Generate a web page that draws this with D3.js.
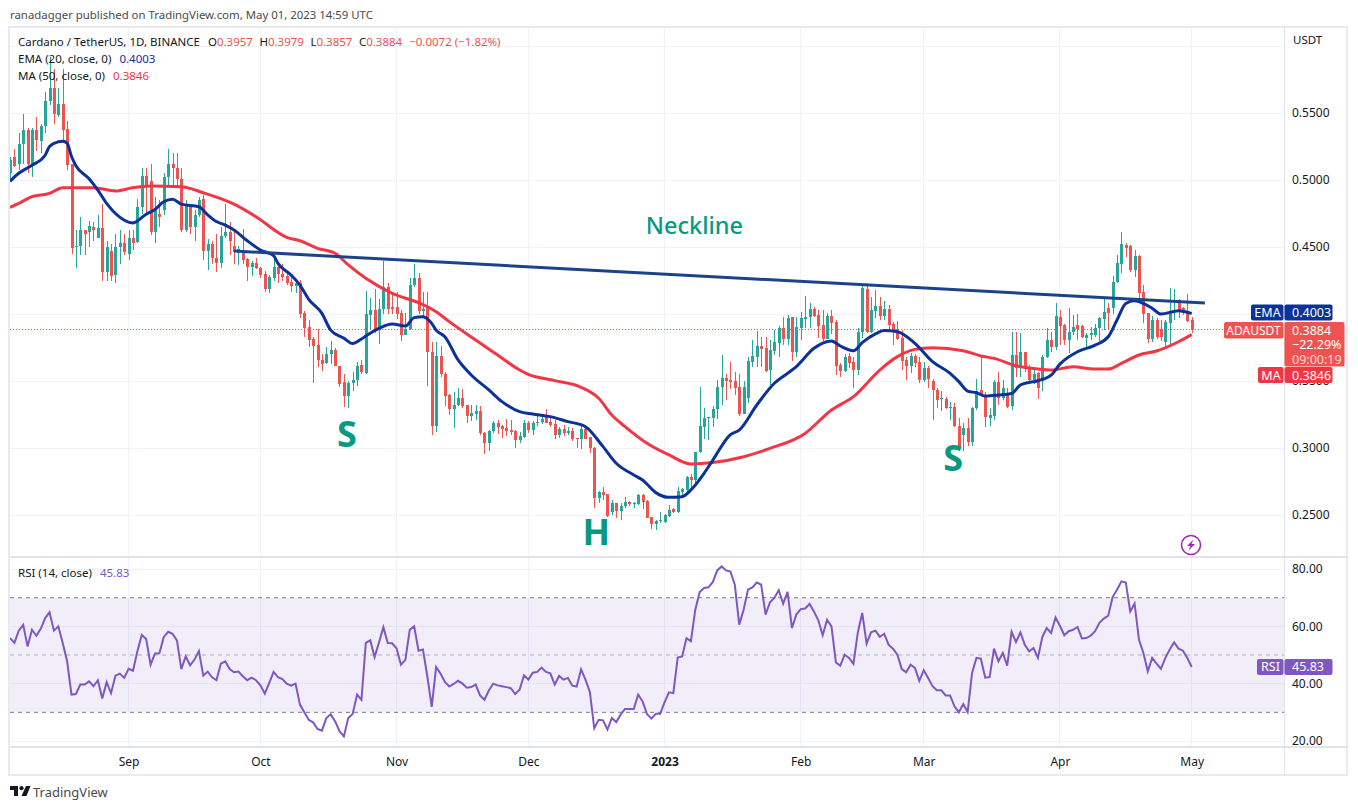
<!DOCTYPE html>
<html><head><meta charset="utf-8">
<script src="https://cdnjs.cloudflare.com/ajax/libs/d3/7.8.5/d3.min.js"></script>
<style>html,body{margin:0;padding:0;background:#fff}svg{display:block}text{font-family:"Noto Sans",sans-serif}</style>
</head><body><div id="c"></div>
<script>
const opens=[.505,.517,.512,.527,.537,.512,.537,.529,.540,.559,.569,.5485,.557,.538,.512,.450,.451,.463,.461,.465,.457,.464,.431,.447,.429,.450,.453,.445,.457,.454,.4795,.503,.499,.4615,.475,.4775,.502,.512,.509,.5005,.463,.481,.465,.474,.4855,.447,.452,.4415,.438,.458,.4615,.451,.4475,.447,.441,.435,.438,.434,.430,.4185,.427,.435,.430,.4285,.424,.421,.423,.401,.390,.3815,.377,.366,.3635,.370,.373,.3615,.349,.339,.3485,.3505,.362,.356,.3995,.403,.388,.404,.420,.405,.4055,.4005,.384,.389,.4215,.4265,.402,.4045,.372,.3165,.369,.355,
.3395,.329,.332,.337,.332,.324,.3255,.3276,.3115,.304,.3125,.3185,.3165,.3147,.3135,.313,.306,.3085,.3188,.3135,.3188,.3195,.3246,.3197,.318,.3097,.314,.3115,.313,.3072,.3065,.3142,.308,.2997,.263,.2669,.2657,.2520,.2587,.253,.2565,.2600,.2588,.2582,.2649,.2605,.2482,.2432,.2455,.2445,.2493,.2542,.2525,.2675,.2687,.2786,.2761,.2973,.3160,.3221,.3225,.3291,.3453,.3525,.3508,.3502,.3458,
.3254,.3376,.3645,.3682,.3761,.3744,.3582,.3724,.3786,.3893,.3811,.3975,.3719,.3893,.3963,.3975,.4037,.3993,.3918,.3813,.3985,.3943,.3619,.3575,.3687,.3644,.3582,.3868,.4187,.3868,.4025,.4060,.3985,.4035,.3923,.3886,.3818,.3657,.3612,.3687,.3644,.3508,.3600,.3503,.3433,.3366,.3363,.3299,.3308,.3167,.3097,.3147,.3047,.3296,
.3432,.3395,.3225,.3241,.3490,.3370,.3408,.3313,.3694,.3594,.3718,.3594,.3507,.3557,.3502,.3676,.3806,.3751,.3980,.3917,.3806,.3868,.3917,.3912,.3823,.3843,.3843,.3892,.3962,.4047,.4042,.4236,.4373,.4514,.4507,.4328,.4432,.4166,.4005,.3810,.3955,.3885,.3793,.3935,.4012,.4104,.4042,.4017,.3957];
const highs=[.517,.5235,.535,.549,.5385,.5385,.547,.542,.566,.592,.583,.569,.583,.544,.512,.463,.4725,.463,.4695,.469,.474,.482,.4545,.4525,.4595,.463,.4595,.463,.463,.4855,.509,.509,.512,.4875,.485,.505,.5235,.520,.520,.509,.485,.482,.4775,.4875,.489,.456,.4545,.460,.465,.482,.4685,.4635,.451,.4635,.4415,.4395,.442,.435,.432,.429,.4415,.437,.437,.431,.428,.426,.4255,.402,.3955,.383,.3885,.3705,.3755,.3795,.375,.3615,.3555,.350,.3565,.364,.366,.417,.412,.419,.411,.4395,.423,.4155,.4165,.403,.4005,.4265,.437,.4305,.4165,.4165,.379,.3788,.376,.3565,
.340,.342,.3445,.344,.332,.332,.332,.331,.312,.3135,.320,.321,.317,.322,.321,.3135,.3122,.321,.320,.320,.3254,.3246,.329,.323,.321,.3155,.317,.3155,.3152,.3072,.3184,.3172,.3085,.301,.268,.2706,.266,.2612,.2587,.2587,.2637,.2607,.2595,.2657,.2657,.2612,.2487,.2463,.2520,.2505,.2575,.2550,.2712,.2699,.2794,.2804,.2973,.3458,.3296,.3229,.3316,.3508,.3694,.3550,.3639,.3565,.3552,
.3503,.3682,.3806,.3873,.3831,.3831,.3806,.3881,.3913,.3980,.3993,.3975,.3975,.4017,.4134,.4080,.4055,.4030,.4030,.4005,.4030,.3955,.3632,.3699,.3707,.3682,.3893,.4209,.4209,.4124,.4179,.4124,.4099,.4067,.3943,.3948,.3881,.3682,.3707,.3699,.3682,.3644,.3612,.3513,.3445,.3426,.3383,.3346,.3333,.3226,.3184,.3221,.3308,.3515,
.3681,.3415,.3296,.3507,.3569,.3507,.3445,.3868,.3868,.3855,.3718,.3619,.3606,.3569,.3694,.3892,.3868,.4084,.4029,.3925,.4042,.3992,.3997,.3917,.3855,.3905,.3925,.3980,.4124,.4079,.4283,.4440,.4609,.4527,.4514,.4477,.4440,.4216,.4005,.3985,.3967,.3955,.3955,.4191,.4184,.4109,.4049,.4149,.3979];
const lows=[.499,.510,.5075,.512,.505,.5025,.522,.520,.535,.556,.542,.547,.530,.5075,.445,.4345,.444,.444,.450,.4545,.457,.425,.425,.425,.423,.4375,.444,.440,.448,.453,.475,.475,.459,.453,.465,.474,.495,.495,.495,.4615,.4615,.460,.4545,.4725,.440,.433,.4375,.4315,.434,.457,.444,.4375,.4365,.437,.425,.428,.4335,.427,.4165,.416,.425,.423,.4245,.4215,.4165,.416,.397,.383,.3755,.3485,.3605,.3575,.363,.3625,.361,.3455,.3305,.330,.3425,.346,.3555,.3555,.3885,.386,.3775,.400,.400,.400,.396,.3795,.384,.388,.4205,.400,.397,.3465,.3097,.312,.353,.3315,
.325,.315,.3315,.3295,.319,.320,.321,.3095,.2955,.2977,.3115,.3105,.3077,.309,.310,.2997,.3035,.3077,.311,.310,.3164,.3177,.3184,.316,.3067,.3072,.309,.3097,.305,.2997,.299,.3065,.2965,.2555,.259,.2612,.2488,.2500,.248,.2463,.2555,.257,.2550,.2572,.2542,.2475,.2393,.2388,.2443,.2440,.2488,.2513,.2512,.2642,.2674,.2687,.2736,.2965,.3065,.3060,.3154,.3214,.3321,.3358,.3438,.3396,.3239,
.3254,.3338,.3607,.3607,.3607,.3570,.3470,.3694,.3682,.3769,.3769,.3652,.3682,.3806,.3893,.3893,.3980,.3818,.3801,.3813,.3851,.3545,.3532,.3567,.3595,.3450,.3545,.3818,.3856,.3856,.3968,.3955,.3955,.3868,.3769,.3806,.3582,.3507,.3557,.3607,.3483,.3495,.3445,.3209,.3296,.3279,.3289,.3209,.3159,.3003,.2980,.3015,.3018,.3284,
.3385,.3159,.3166,.3209,.3320,.3358,.3296,.3283,.3532,.3532,.3570,.3482,.3477,.3365,.3427,.3669,.3719,.3731,.3768,.3768,.3711,.3843,.3805,.3818,.3756,.3805,.3830,.3800,.3880,.3880,.4000,.4228,.4308,.4427,.4315,.4278,.4104,.3930,.3785,.3793,.3810,.3800,.3761,.3761,.3955,.3967,.3992,.3937,.3857];
const closes=[.515,.5105,.527,.537,.512,.537,.530,.540,.559,.569,.549,.557,.537,.511,.449,.451,.463,.460,.466,.463,.464,.431,.450,.428,.450,.453,.446,.457,.453,.4795,.503,.496,.4615,.478,.4725,.5025,.512,.509,.501,.463,.481,.465,.474,.485,.447,.452,.4415,.438,.458,.4615,.4545,.446,.4485,.440,.435,.438,.434,.429,.4185,.4275,.435,.430,.4275,.423,.421,.423,.400,.3895,.3805,.376,.3655,.363,.370,.373,.361,.348,.339,.3485,.351,.3615,.357,.400,.403,.387,.404,.420,.404,.404,.400,.384,.389,.4215,.4265,.402,.404,.372,.3165,.369,.355,.339,
.329,.332,.337,.3315,.324,.326,.3275,.3115,.304,.3127,.3185,.316,.314,.313,.312,.306,.309,.3185,.3135,.319,.3195,.3217,.319,.3172,.3097,.314,.3115,.3127,.3067,.3065,.3142,.3065,.2997,.2630,.2675,.2650,.2495,.2587,.253,.2567,.2595,.258,.2592,.2649,.2595,.2480,.2430,.2455,.2460,.2500,.2537,.2525,.2679,.2694,.2786,.2761,.2973,.3164,.3221,.3229,.3291,.3458,.3525,.3502,.3495,.3450,.3254,
.3458,.3652,.3687,.3761,.3739,.3575,.3731,.3794,.3893,.3811,.3973,.3719,.3905,.3968,.3980,.4037,.3985,.3913,.3811,.3985,.3935,.3612,.3575,.3677,.3632,.3582,.3868,.4192,.3868,.4030,.4062,.3985,.4035,.3918,.3868,.3813,.3652,.3612,.3687,.3637,.3508,.3595,.3513,.3433,.3358,.3374,.3296,.3308,.3164,.3010,.3147,.3047,.3296,.3428,
.3395,.3233,.3246,.3495,.3370,.3445,.3308,.3694,.3594,.3718,.3594,.3507,.3552,.3445,.3681,.3806,.3756,.3985,.3910,.3806,.3868,.3900,.3885,.3825,.3843,.3855,.3897,.3972,.4012,.4010,.4241,.4378,.4522,.4495,.4328,.4432,.4159,.4000,.3810,.3955,.3830,.3830,.3942,.4017,.4024,.4024,.4005,.3950,.3884];

const emaDays=[0,2,5,8,9,11,12,13,14,15,18,20,22,24,28,31,33,35,37,39,43,45,47,49,51,54,57,60,61,64,66,68,71,73,76,78,80,81,84,87,90,92,94,96,97,99,102,105,109,112,116,119,123,127,131,135,138,142,144,147,150,153,155,158,160,164,166,170,174,177,179,183,187,189,192,194,197,199,202,206,210,214,216,218,220,222,225,228,230,231,234,237,239,243,247,250,252,254,256,258,260,262,266,269];
const emaVals=[.499,.505,.511,.5185,.525,.5285,.529,.5275,.5175,.5107,.501,.4925,.4825,.475,.468,.4745,.478,.4838,.4856,.482,.480,.474,.469,.4664,.4627,.4547,.4478,.4435,.4378,.429,.4216,.411,.4005,.388,.382,.378,.3813,.3836,.3893,.3925,.391,.3973,.398,.393,.388,.383,.3657,.3545,.3433,.3346,.3271,.3254,.3234,.3197,.3159,.3010,.2886,.2799,.2761,.2667,.2632,.2637,.2687,.2811,.2910,.3100,.3134,.3321,.3483,.3557,.3607,.3744,.3799,.3761,.3726,.3786,.3851,.3876,.3868,.3781,.3644,.3557,.3495,.3425,.3412,.3388,.3395,.3407,.3470,.3482,.3502,.3544,.3626,.3718,.3768,.3830,.3955,.4079,.4099,.4079,.4042,.4000,.4024,.4003];
const maDays=[0,2,5,9,12,19,24,28,32,39,44,51,56,63,66,70,74,77,81,87,93,97,100,106,111,116,118,124,130,134,137,140,145,150,155,160,167,173,181,187,192,198,202,206,210,217,221,224,229,234,237,242,247,250,253,257,261,266,269];
const maVals=[.4796,.4826,.4876,.490,.4943,.4943,.4918,.4943,.4955,.495,.4905,.482,.4726,.4572,.4547,.449,.4453,.4366,.4266,.4154,.4084,.4017,.3943,.3806,.3694,.3582,.3550,.3503,.3453,.3371,.3246,.3159,.3035,.2948,.2881,.2891,.2935,.2997,.3109,.3284,.3383,.3582,.3682,.3736,.3749,.3726,.3687,.3669,.3614,.3589,.3582,.3606,.3589,.3589,.3631,.3694,.3724,.3793,.3846];
const rsiVals=[55.9,54.2,58.5,60.5,53.0,58.8,56.7,59.1,62.9,64.9,58.5,60.0,54.2,47.8,36.2,36.4,39.7,39.7,40.8,39.1,41.2,34.8,40.5,36.7,42.8,43.5,42.0,45.2,44.5,51.3,57.0,55.6,46.6,50.5,50.6,56.2,58.1,57.4,55.1,45.1,49.5,46.4,48.4,51.4,42.8,44.2,42.2,41.2,47.0,47.8,45.1,44.0,44.2,42.6,41.2,42.1,41.2,39.4,36.5,40.2,44.1,42.3,41.6,40.0,39.3,40.0,32.7,30.0,27.4,26.5,24.2,23.6,28.0,29.3,26.9,23.4,21.6,28.0,29.4,36.2,34.4,54.2,55.1,49.3,54.4,59.7,54.2,54.1,52.3,46.6,48.3,58.8,60.0,51.5,51.9,42.6,31.9,45.8,43.5,40.6,39.0,39.9,41.0,40.0,38.6,38.8,39.7,35.9,34.4,37.6,40.0,39.4,39.1,38.8,38.4,36.4,37.9,42.9,41.4,43.8,44.1,45.6,44.1,43.6,39.7,42.7,41.4,42.0,39.3,39.0,45.0,41.4,37.1,24.5,27.4,27.2,24.0,28.0,26.6,29.2,31.2,31.2,31.2,36.2,33.8,29.4,27.8,29.5,29.5,33.5,37.0,36.7,49.1,
49.5,55.9,54.8,65.8,72.0,73.4,73.6,75.5,79.5,80.9,79.5,79.1,74.5,60.6,65.8,72.8,73.6,75.3,74.5,64.1,68.4,69.9,72.6,67.9,72.0,59.4,64.1,66.0,66.2,67.8,65.2,62.1,56.9,62.3,60.0,47.4,46.3,50.1,49.0,46.9,57.9,64.7,54.0,57.9,58.5,56.3,57.4,53.6,52.2,50.1,45.1,44.0,46.6,45.5,41.0,44.7,42.0,39.1,37.7,37.7,35.9,35.9,32.1,30.0,32.9,30.1,43.7,49.0,48.7,42.1,42.3,52.2,47.8,50.7,46.3,58.1,54.5,57.9,53.6,51.3,52.4,49.0,56.3,59.4,57.7,63.1,60.2,56.9,58.3,58.8,59.8,55.8,55.9,56.7,58.3,61.2,62.7,63.7,70.2,72.8,75.7,75.3,65.2,67.9,55.3,50.7,44.3,49.0,47.0,45.2,49.0,51.9,54.4,52.2,51.5,49.0,45.83];
const necklineDays=[51,272], necklineVals=[.447,.4082];
const priceTicks=[.60,.55,.50,.45,.40,.35,.30,.25];
const rsiTicks=[80,60,40,20], rsiLevels=[70,50,30];
const monthTicks=["2022-09-01","2022-10-01","2022-11-01","2022-12-01","2023-01-01","2023-02-01","2023-03-01","2023-04-01","2023-05-01"];
const monthLabels=["Sep","Oct","Nov","Dec","2023","Feb","Mar","Apr","May"];
const startDay=new Date(Date.UTC(2022,7,5));

const W=1358,H=810, L=10,R=1284,FR=1347,PT=28,PB=557,RT=558,RB=747,FB=775;
const UP="#26a69a",DN="#ef5350",EMA="#0c3299",MA="#f23645",NECK="#1c4389",RSI="#7e57c2",TEAL="#089981",GRID="#f0f3fa",AX="#e0e3eb",TXT="#131722",HEAD="#4a4a4a";
const dayOf=i=>d3.utcDay.offset(startDay,i);
const x=d3.scaleUtc().domain([startDay,new Date(Date.UTC(2023,4,1))]).range([10,1191.7]);
const y=d3.scaleLinear().domain([.25,.55]).range([515,113]);
const yr=d3.scaleLinear().domain([20,80]).range([741,569]);
const svg=d3.select("#c").append("svg").attr("width",W).attr("height",H).attr("viewBox",`0 0 ${W} ${H}`);
const defs=svg.append("defs");
defs.append("clipPath").attr("id","cp").append("rect").attr("x",L).attr("y",PT).attr("width",R-L).attr("height",PB-PT);
defs.append("clipPath").attr("id","cr").append("rect").attr("x",L).attr("y",RT).attr("width",R-L).attr("height",RB-RT);

svg.append("rect").attr("width",W).attr("height",H).attr("fill","#fff");
// grid
const grid=svg.append("g").attr("shape-rendering","crispEdges");
const monthDates=monthTicks.map(d=>new Date(d+"T00:00:00Z"));
grid.selectAll(".v").data(monthDates).join("line").attr("x1",d=>x(d)).attr("x2",d=>x(d)).attr("y1",PT).attr("y2",RB).attr("stroke",GRID);
grid.selectAll(".h").data(priceTicks).join("line").attr("x1",L).attr("x2",R).attr("y1",d=>y(d)).attr("y2",d=>y(d)).attr("stroke",GRID);
grid.selectAll(".r").data(rsiTicks).join("line").attr("x1",L).attr("x2",R).attr("y1",d=>yr(d)).attr("y2",d=>yr(d)).attr("stroke",GRID);

// candles
const gc=svg.append("g").attr("clip-path","url(#cp)");
const idx=d3.range(closes.length);
gc.append("line").attr("x1",L).attr("x2",R).attr("y1",y(closes[closes.length-1])).attr("y2",y(closes[closes.length-1])).attr("stroke",DN).attr("stroke-dasharray","1 2");
const col=i=>closes[i]>=opens[i]?UP:DN;
const cx=i=>Math.round(x(dayOf(i)));
gc.append("g").attr("shape-rendering","crispEdges").selectAll("rect.w").data(idx).join("rect").attr("x",i=>cx(i)).attr("width",1)
  .attr("y",i=>y(highs[i])).attr("height",i=>y(lows[i])-y(highs[i])).attr("fill",col);
gc.append("g").attr("shape-rendering","crispEdges").selectAll("rect.b").data(idx).join("rect").attr("x",i=>cx(i)-1).attr("width",3)
  .attr("y",i=>y(Math.max(opens[i],closes[i]))).attr("height",i=>Math.max(1,Math.abs(y(opens[i])-y(closes[i])))).attr("fill",col);

const line=d3.line().x(d=>x(dayOf(d[0]))).y(d=>y(d[1])).curve(d3.curveMonotoneX);
gc.append("path").attr("d",line(d3.zip(maDays,maVals))).attr("fill","none").attr("stroke",MA).attr("stroke-width",3);
gc.append("path").attr("d",line(d3.zip(emaDays,emaVals))).attr("fill","none").attr("stroke",EMA).attr("stroke-width",3);
gc.append("path").attr("d",line(d3.zip(necklineDays,necklineVals))).attr("fill","none").attr("stroke",NECK).attr("stroke-width",3);

// annotations
const note=(t,i,p,s,w,dx)=>gc.append("text").text(t).attr("x",x(dayOf(i))).attr("dx",dx).attr("y",y(p)).attr("text-anchor","middle").attr("font-size",s).attr("font-weight",w).attr("fill",TEAL);
note("Neckline",155,.4600,23.5,500,3.5);
note("S",76,.3005,36,700,3);
note("H",134,.2275,36,700,-2.5);
note("S",214,.2825,36,700,3);

// flash icon
const fl=svg.append("g").attr("transform","translate(1191,545)");
fl.append("circle").attr("r",9.5).attr("fill","#fff").attr("stroke","#9c27b0").attr("stroke-width",1.5);
fl.append("path").attr("d","M2.5,-5.5 L-4,1 L-0.5,1 L-2.5,5.5 L4,-1 L0.5,-1 Z").attr("fill","#9c27b0");

// RSI pane
const gr=svg.append("g").attr("clip-path","url(#cr)");
gr.append("rect").attr("x",L).attr("width",R-L).attr("y",yr(70)).attr("height",yr(30)-yr(70)).attr("fill",RSI).attr("opacity",.1);
gr.selectAll(".l").data(rsiLevels).join("line").attr("x1",L).attr("x2",R).attr("y1",d=>yr(d)).attr("y2",d=>yr(d))
  .attr("stroke","#787b86").attr("stroke-dasharray","4 4").attr("opacity",d=>d===50?.55:1);
gr.append("path").attr("d",d3.line().x((d,i)=>x(dayOf(i))).y(d=>yr(d))(rsiVals)).attr("fill","none").attr("stroke",RSI).attr("stroke-width",2);

// frame and separators
const fr=svg.append("g").attr("shape-rendering","crispEdges");
fr.append("rect").attr("x",9).attr("y",27).attr("width",FR-9).attr("height",FB-27).attr("fill","none").attr("stroke","#e9eaef").attr("stroke-width",2);
fr.append("line").attr("x1",L).attr("x2",FR).attr("y1",PB).attr("y2",PB).attr("stroke",AX).attr("stroke-width",1.5);
fr.append("line").attr("x1",L).attr("x2",FR).attr("y1",RB).attr("y2",RB).attr("stroke",AX).attr("stroke-width",1.5);
fr.append("line").attr("x1",R).attr("x2",R).attr("y1",PT).attr("y2",FB).attr("stroke",AX);

// axes
const sty=g=>{g.select(".domain").remove();g.selectAll("line").remove();g.selectAll("text").attr("fill",TXT).attr("font-size",12).attr("font-family",'"Noto Sans",sans-serif');};
svg.append("g").attr("transform",`translate(${R+2},0)`).call(d3.axisRight(y).tickValues(priceTicks.filter(d=>d<.6)).tickSize(0).tickPadding(6).tickFormat(d3.format(".4f"))).call(sty);
svg.append("g").attr("transform",`translate(${R+2},0)`).call(d3.axisRight(yr).tickValues(rsiTicks).tickSize(0).tickPadding(6).tickFormat(d3.format(".2f"))).call(sty);
svg.append("g").attr("transform",`translate(0,${RB+4})`).call(d3.axisBottom(x).tickValues(monthDates).tickSize(0).tickPadding(6).tickFormat((d,i)=>monthLabels[i])).call(sty)
  .selectAll("text").attr("font-weight",(d,i)=>monthLabels[i]==="2023"?700:400);
svg.append("text").text("USDT").attr("x",1293).attr("y",44).attr("font-size",11.5).attr("fill",TXT);

// tags
function tag(label,val,fill,yc,xl,h){
  const g=svg.append("g");
  g.append("rect").attr("x",xl).attr("y",yc-8).attr("width",R-xl-.5).attr("height",16).attr("rx",2).attr("fill",fill);
  g.append("text").text(label).attr("x",(xl+R)/2).attr("y",yc+4.5).attr("text-anchor","middle").attr("fill","#fff").attr("font-size",12.5);
  g.append("rect").attr("x",R+.5).attr("y",yc-8).attr("width",48).attr("height",16).attr("rx",2).attr("fill",fill);
  g.append("text").text(val).attr("x",R+8).attr("y",yc+4.5).attr("fill","#fff").attr("font-size",12.5);
}
tag("EMA","0.4003",EMA,y(.4003)-1,1251);
tag("RSI","45.83",RSI,yr(45.83),1257);
const tg=svg.append("g");
tg.append("rect").attr("x",1224).attr("y",322).attr("width",59.5).attr("height",16.5).attr("rx",2).attr("fill",DN);
tg.append("text").text("ADAUSDT").attr("x",1253.5).attr("y",334.5).attr("text-anchor","middle").attr("fill","#fff").attr("font-size",12);
tg.append("rect").attr("x",R+.5).attr("y",322).attr("width",60).attr("height",44.5).attr("rx",2).attr("fill",DN);
tg.selectAll("text.v").data([["0.3884",1],["\u221222.29%",1],["09:00:19",.75]]).join("text").text(d=>d[0]).attr("x",R+8).attr("y",(d,i)=>334.5+i*14.5).attr("fill","#fff").attr("opacity",d=>d[1]).attr("font-size",12.5);
tag("MA","0.3846",MA,375,1258);

// legend
const ltext=(yy)=>svg.append("text").attr("x",18).attr("y",yy).attr("font-size",11.5).attr("fill",TXT);
const l1=ltext(46);
l1.append("tspan").text("Cardano / TetherUS, 1D, BINANCE");
[["O","0.3957"],["H","0.3979"],["L","0.3857"],["C","0.3884"]].forEach((p,i)=>{
  l1.append("tspan").attr("dx",i?6.5:8).text(p[0]);
  l1.append("tspan").attr("fill",DN).text(p[1]);
});
l1.append("tspan").attr("dx",7).attr("fill",DN).text("\u22120.0072 (\u22121.82%)");
const l2=ltext(63); l2.append("tspan").text("EMA (20, close, 0)"); l2.append("tspan").attr("dx",8).attr("fill",EMA).text("0.4003");
const l3=ltext(80); l3.append("tspan").text("MA (50, close, 0)"); l3.append("tspan").attr("dx",8).attr("fill",MA).text("0.3846");
const l4=ltext(577); l4.append("tspan").text("RSI (14, close)"); l4.append("tspan").attr("dx",8).attr("fill",RSI).text("45.83");

// header / footer
svg.append("text").text("ranadagger published on TradingView.com, May 01, 2023 14:59 UTC").attr("x",10).attr("y",19).attr("font-size",11.4).attr("fill",HEAD);
const lg=svg.append("g").attr("transform","translate(10,785)").attr("fill","#131722");
lg.append("path").attr("d","M0,1 H8 V11 H4 V5 H0 Z M16,1 H20.5 L16.5,11 H11.5 Z");
lg.append("circle").attr("cx",11.5).attr("cy",3.2).attr("r",2.1);
svg.append("text").text("TradingView").attr("x",33).attr("y",797).attr("font-size",13).attr("fill",HEAD);
</script></body></html>
